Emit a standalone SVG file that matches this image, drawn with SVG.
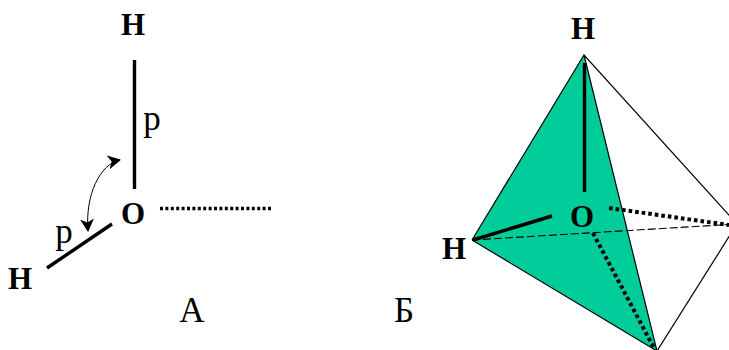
<svg xmlns="http://www.w3.org/2000/svg" width="729" height="350" viewBox="0 0 729 350">
<style>
text{font-family:"Liberation Serif","Times New Roman",serif;fill:#000}
.b{font-weight:bold;font-size:31px;text-anchor:middle}
.r{font-size:35px;text-anchor:middle}
.bond{stroke:#000;stroke-width:3.4;fill:none}
.dot{stroke:#000;stroke-width:3.4;stroke-dasharray:3 2.4;fill:none}
.dot2{stroke:#000;stroke-width:4;stroke-dasharray:3.6 3;fill:none}
.thin{stroke:#000;stroke-width:1.2;fill:none}
.curve{stroke:#000;stroke-width:1;fill:none}
</style>
<defs>
<marker id="ah" markerUnits="userSpaceOnUse" markerWidth="16" markerHeight="16" refX="12" refY="7" orient="auto-start-reverse"><path d="M0 0L13 7L0 14L3.500 7Z" fill="#000"/></marker>
</defs>
<rect width="729" height="350" fill="#fff"/>
<g id="tetrahedron">
<polygon points="584,55 472,240 657,351" fill="#00cc99"/>
<path class="thin" d="M472 240L584 55L737 224L657 351L472 240M584 55L657 351"/>
<path d="M472 240L737 224" fill="none" stroke="#000" stroke-width="1.1" stroke-dasharray="8 3"/>
</g>
<g id="connectors">
<path class="bond" d="M134.500 60V189M112 224L47 268"/>
<path class="dot" d="M160 208.500H272"/>
<path class="curve" d="M120 160C100 164 85 195 88 231" marker-start="url(#ah)" marker-end="url(#ah)"/>
<path class="bond" d="M584.500 63V192M473 240L552 216"/>
<path class="dot2" d="M609 208L729 225M593 233L655 350"/>
</g>
<g id="node-a-h1"><text class="b" x="133" y="35">H</text></g>
<g id="node-a-o"><text class="b" x="133" y="224">O</text></g>
<g id="node-a-h2"><text class="b" x="20" y="289">H</text></g>
<g id="label-p1"><text class="r" x="152" y="130">p</text></g>
<g id="label-p2"><text class="r" x="64" y="243">p</text></g>
<g id="label-a"><text class="r" x="192" y="322">А</text></g>
<g id="label-b"><text class="r" x="404" y="322">Б</text></g>
<g id="node-b-h1"><text class="b" x="583" y="39">H</text></g>
<g id="node-b-o"><text class="b" x="582" y="227">O</text></g>
<g id="node-b-h2"><text class="b" x="454" y="259">H</text></g>
</svg>
